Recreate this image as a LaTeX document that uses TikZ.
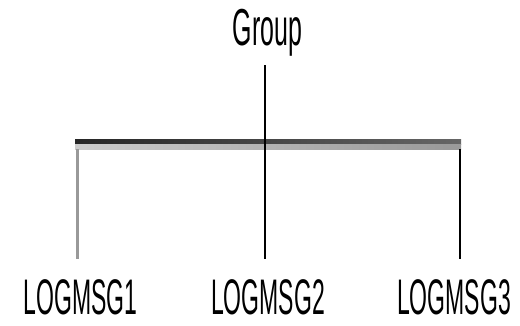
\documentclass[tikz,border=0pt]{standalone}
\usepackage{fontspec}
\setmainfont{Liberation Sans}
\usepackage{graphicx}
\begin{document}
\begin{tikzpicture}[x=1pt,y=-1pt,
  lbl/.style={inner sep=0pt,anchor=base,font=\fontsize{50}{54}\selectfont},
  ttl/.style={inner sep=0pt,anchor=base,font=\fontsize{52}{56}\selectfont},
  conn/.style={line width=2pt,black},
  connl/.style={line width=3pt,gray!80}]
\useasboundingbox (0,0) rectangle (520,325);
\node[ttl] (g) at (267.5,45) {\scalebox{0.48}[1]{Group}};
\node[lbl] (m1) at (80.5,314) {\scalebox{0.46}[1]{LOGMSG1}};
\node[lbl] (m2) at (268,314) {\scalebox{0.46}[1]{LOGMSG2}};
\node[lbl] (m3) at (454,314) {\scalebox{0.46}[1]{LOGMSG3}};
% bar
\shade[left color=black!85,right color=black!60] (75,139) rectangle (461,144);
\shade[left color=black!20,right color=black!40] (75,144) rectangle (461,149);
\coordinate (b1) at (77,149);
\coordinate (b3) at (460,149);
\coordinate (t1) at (77,259);
\coordinate (t2) at (264.5,259);
\coordinate (t3) at (460,259);
\coordinate (j2) at (264.5,65);
\draw[connl] (b1) -- (t1);
\draw[conn] (j2) -- (t2);
\draw[conn] (b3) -- (t3);
\end{tikzpicture}
\end{document}
